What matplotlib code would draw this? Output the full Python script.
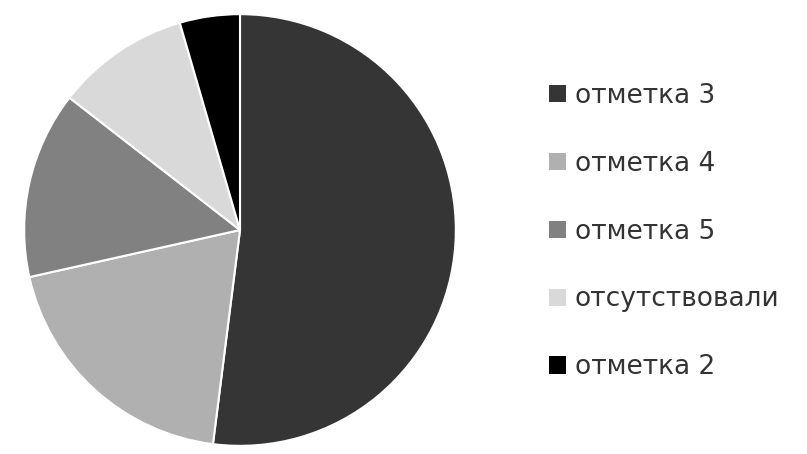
import matplotlib.pyplot as plt
from matplotlib.patches import Patch

labels = ['отметка 3', 'отметка 4', 'отметка 5', 'отсутствовали', 'отметка 2']
values = [52, 19.5, 14, 10, 4.5]
colors = ['#353535', '#b0b0b0', '#818181', '#d9d9d9', '#000000']

plt.rcParams['font.family'] = ['DejaVu Sans']

fig = plt.figure(figsize=(8.07, 4.54), dpi=100)
ax = fig.add_axes([22 / 807, 6 / 454, 436 / 807, 436 / 454])
ax.pie(values, colors=colors, startangle=90, counterclock=False, radius=1,
       wedgeprops=dict(edgecolor='white', linewidth=1.5))
ax.set_xlim(-1.01, 1.01)
ax.set_ylim(-1.01, 1.01)
ax.set_aspect('equal')

handles = [Patch(facecolor=c, edgecolor='none') for c in colors]
fig.legend(handles, labels, loc='center left', bbox_to_anchor=(549 / 807, 0.49),
           frameon=False, fontsize=19, handlelength=0.64, handleheight=0.64,
           handletextpad=0.34, labelspacing=1.59, borderaxespad=0, borderpad=0,
           labelcolor='#333333')

fig.savefig('out.png', dpi=100)
